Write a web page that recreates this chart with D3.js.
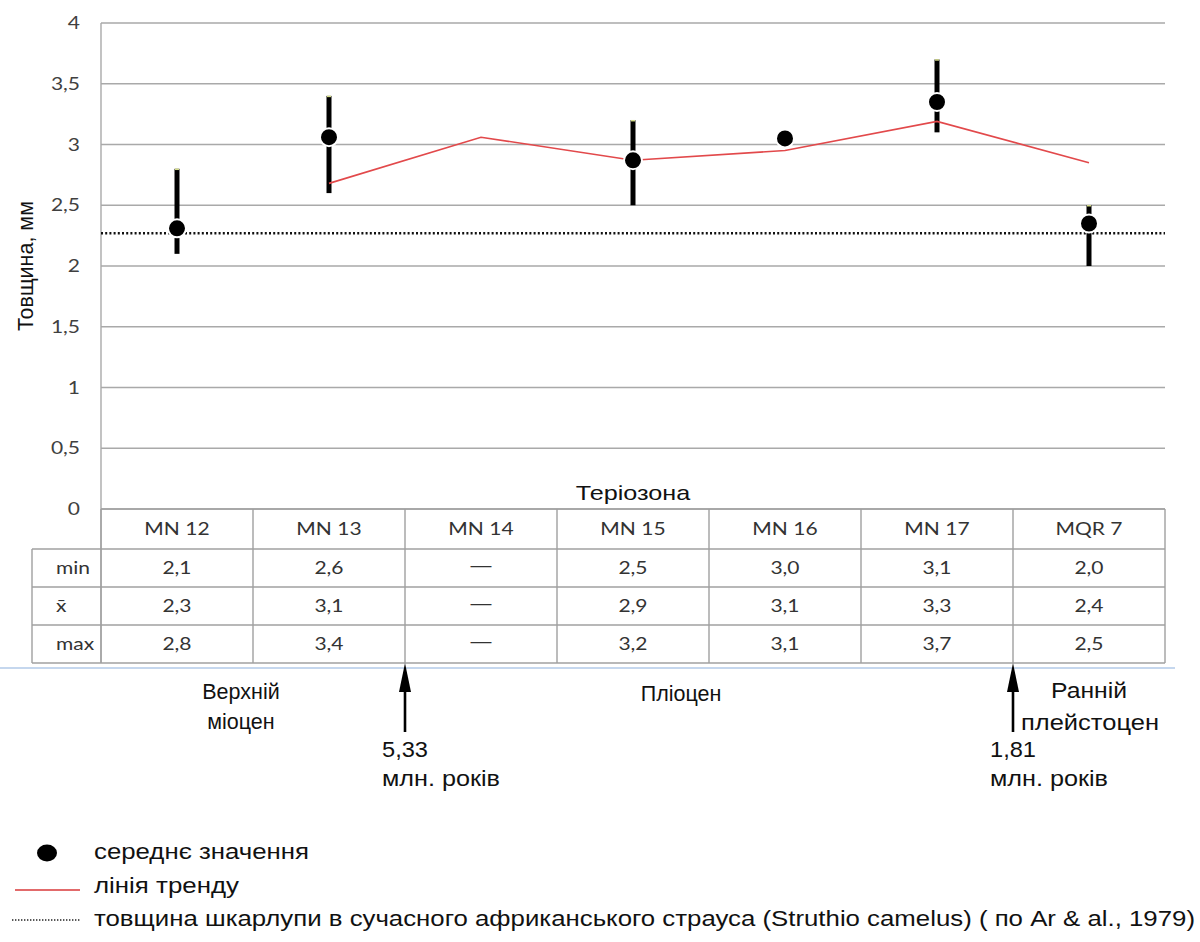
<!DOCTYPE html>
<html>
<head>
<meta charset="utf-8">
<script src="https://cdn.jsdelivr.net/npm/d3@7"></script>
<style>
  html, body { margin: 0; padding: 0; background: #fff; }
  svg { display: block; }
</style>
</head>
<body>
<svg id="chart" width="1200" height="942"></svg>
<script>
// Теріозони (MN/MQR) and shell-thickness statistics, mm
const zones = ["MN 12", "MN 13", "MN 14", "MN 15", "MN 16", "MN 17", "MQR 7"];
const minVals = [2.1, 2.6, null, 2.5, 3.0, 3.1, 2.0];
const maxVals = [2.8, 3.4, null, 3.2, 3.1, 3.7, 2.5];
const meanTable = [2.3, 3.1, null, 2.9, 3.1, 3.3, 2.4];   // x̄ row of the table
const meanPoints = [2.31, 3.06, null, 2.87, 3.05, 3.35, 2.35]; // plotted mean markers
const trendVals = [null, 2.68, 3.06, 2.87, 2.95, 3.19, 2.85];  // лінія тренду
const ostrichThickness = 2.27; // Struthio camelus, Ar & al., 1979
const yTicks = [0, 0.5, 1, 1.5, 2, 2.5, 3, 3.5, 4];
const rowLabels = ["min", "x̄", "max"];
const epochLabels = [
  { lines: ["Верхній", "міоцен"] },
  { lines: ["Пліоцен"] },
  { lines: ["Ранній", "плейстоцен"] }
];
const boundaries = [
  { zoneEdge: 2, lines: ["5,33", "млн. років"] },
  { zoneEdge: 6, lines: ["1,81", "млн. років"] }
];
const legendItems = ["середнє значення", "лінія тренду",
  "товщина шкарлупи в сучасного африканського страуса (Struthio camelus) ( по Ar & al., 1979)"];

const SX = 1.2; // horizontal text stretch used for the chart and table labels
const ARIAL = "'Liberation Sans', Arial, sans-serif";
const CALIBRI = "Lato, 'Open Sans', sans-serif";

const svg = d3.select("#chart");
const plotLeft = 101, plotRight = 1165;

const x = d3.scaleBand().domain(zones).range([plotLeft, plotRight]).paddingInner(0).paddingOuter(0);
const y = d3.scaleLinear().domain([0, 4]).range([509, 23]);
const cx = i => x(zones[i]) + x.bandwidth() / 2;

const locale = d3.formatLocale({ decimal: ",", thousands: " ", grouping: [3], currency: ["", ""] });
const fmtTick = locale.format("~g");
const fmt1 = locale.format(".1f");

function stretch(sel, width) {
  sel.each(function () {
    const n = this.getComputedTextLength();
    this.setAttribute("textLength", width || n * SX);
    this.setAttribute("lengthAdjust", "spacingAndGlyphs");
  });
  return sel;
}

// horizontal gridlines
svg.append("g").selectAll("line").data(yTicks).join("line")
  .attr("x1", plotLeft).attr("x2", plotRight)
  .attr("y1", d => y(d)).attr("y2", d => y(d))
  .attr("stroke", "#a9a9a9").attr("stroke-width", 1.4);

// y axis labels
const yAxis = svg.append("g").attr("transform", `translate(${plotLeft},0)`)
  .call(d3.axisLeft(y).tickValues(yTicks).tickFormat(fmtTick).tickSize(0).tickPadding(21));
yAxis.select(".domain").remove();
yAxis.selectAll("text").attr("font-family", CALIBRI).attr("font-size", 17.5).attr("fill", "#404040")
  .call(stretch);

// left vertical axis line running down through the table
svg.append("line").attr("x1", plotLeft).attr("x2", plotLeft).attr("y1", y(4)).attr("y2", 663)
  .attr("stroke", "#a9a9a9").attr("stroke-width", 1.4);

// y axis title
svg.append("text").attr("transform", `translate(33,${y(2)}) rotate(-90)`)
  .attr("text-anchor", "middle").attr("font-family", ARIAL).attr("font-size", 21.5).attr("fill", "#111")
  .text("Товщина, мм");

// "Теріозона" caption
stretch(svg.append("text").attr("x", 633).attr("y", 500).attr("text-anchor", "middle")
  .attr("font-family", ARIAL).attr("font-size", 21).attr("fill", "#111").text("Теріозона"));

// table
const headTop = y(0), rowH = 38, headBottom = headTop + 40, labelLeft = 32;
const rowsY = [headBottom, headBottom + rowH, headBottom + 2 * rowH, headBottom + 3 * rowH];
const tbl = svg.append("g");
const gridStroke = "#a0a0a0";
tbl.append("line").attr("x1", plotLeft).attr("x2", plotRight).attr("y1", headTop).attr("y2", headTop)
  .attr("stroke", gridStroke).attr("stroke-width", 1.4);
tbl.selectAll("line.h").data(rowsY).join("line").attr("class", "h")
  .attr("x1", labelLeft).attr("x2", plotRight).attr("y1", d => d).attr("y2", d => d)
  .attr("stroke", gridStroke).attr("stroke-width", 1.4);
tbl.selectAll("line.v").data(zones.map(z => x(z) + x.bandwidth()).concat([plotLeft])).join("line").attr("class", "v")
  .attr("x1", d => d).attr("x2", d => d).attr("y1", headTop).attr("y2", rowsY[3])
  .attr("stroke", gridStroke).attr("stroke-width", 1.4);
tbl.append("line").attr("x1", labelLeft).attr("x2", labelLeft).attr("y1", rowsY[0]).attr("y2", rowsY[3])
  .attr("stroke", gridStroke).attr("stroke-width", 1.4);

// header
tbl.selectAll("text.head").data(zones).join("text").attr("class", "head")
  .attr("x", (d, i) => cx(i)).attr("y", headTop + 26).attr("text-anchor", "middle")
  .attr("font-family", CALIBRI).attr("font-size", 17.5).attr("fill", "#333").text(d => d)
  .call(stretch);
// row labels
tbl.selectAll("text.rl").data(rowLabels).join("text").attr("class", "rl")
  .attr("x", 56).attr("y", (d, i) => rowsY[i] + 25)
  .attr("font-family", CALIBRI).attr("font-size", 17.5).attr("fill", "#333").text(d => d)
  .call(stretch);
// values (missing values shown as a long dash)
const rowsData = [minVals, meanTable, maxVals];
rowsData.forEach((vals, r) => {
  tbl.selectAll(null).data(vals).join("text")
    .attr("x", (d, i) => cx(i)).attr("y", (d) => rowsY[r] + (d == null ? 23 : 25)).attr("text-anchor", "middle")
    .attr("font-family", CALIBRI).attr("font-size", 17.5).attr("fill", "#333")
    .text(d => d == null ? "—" : fmt1(d))
    .each(function (d) { stretch(d3.select(this), d == null ? 25 : null); });
});

// thin blue rule under the table
svg.append("line").attr("x1", 0).attr("x2", 1175).attr("y1", 668).attr("y2", 668)
  .attr("stroke", "#c5d7ee").attr("stroke-width", 2);

// ostrich reference line (dotted)
svg.append("line").attr("x1", plotLeft).attr("x2", plotRight)
  .attr("y1", y(ostrichThickness)).attr("y2", y(ostrichThickness))
  .attr("stroke", "#111").attr("stroke-width", 2.6).attr("stroke-dasharray", "2,2.2");

// min–max bars
const idx = d3.range(zones.length).filter(i => minVals[i] != null);
svg.append("g").selectAll("line").data(idx).join("line")
  .attr("x1", cx).attr("x2", cx)
  .attr("y1", i => y(minVals[i])).attr("y2", i => y(maxVals[i]))
  .attr("stroke", "#000").attr("stroke-width", 5);
svg.append("g").selectAll("line").data(idx).join("line")
  .attr("x1", i => cx(i) - 2).attr("x2", i => cx(i) + 2)
  .attr("y1", i => y(maxVals[i]) + 0.5).attr("y2", i => y(maxVals[i]) + 0.5)
  .attr("stroke", "#d4dc8a").attr("stroke-width", 1.5);

// trend line
const trend = d3.line().defined(d => d != null).x((d, i) => cx(i)).y(d => y(d));
svg.append("path").datum(trendVals).attr("d", trend)
  .attr("fill", "none").attr("stroke", "#e2494b").attr("stroke-width", 1.6);

// mean markers
svg.append("g").selectAll("circle").data(d3.range(zones.length).filter(i => meanPoints[i] != null)).join("circle")
  .attr("cx", cx).attr("cy", i => y(meanPoints[i])).attr("r", 9)
  .attr("fill", "#000").attr("stroke", "#fff").attr("stroke-width", 2);

// epoch labels
function bottomText(sx, sy, s, anchor, w) {
  const t = svg.append("text").attr("x", sx).attr("y", sy)
    .attr("text-anchor", anchor).attr("font-family", ARIAL).attr("font-size", 21.5).attr("fill", "#111").text(s);
  if (w) stretch(t, w);
  return t;
}
bottomText(241, 699, epochLabels[0].lines[0], "middle");
bottomText(241, 729, epochLabels[0].lines[1], "middle");
bottomText(681, 701, epochLabels[1].lines[0], "middle");
bottomText(1089, 698, epochLabels[2].lines[0], "middle", 76);
bottomText(1090, 730, epochLabels[2].lines[1], "middle", 138);

// boundary arrows
boundaries.forEach(b => {
  const bx = x(zones[b.zoneEdge]);
  svg.append("line").attr("x1", bx).attr("x2", bx).attr("y1", 688).attr("y2", 732)
    .attr("stroke", "#000").attr("stroke-width", 2.6);
  svg.append("path").attr("d", `M${bx},663 L${bx - 6},692 L${bx + 6},692 Z`).attr("fill", "#000");
  bottomText(bx - 23, 757, b.lines[0], "start", 46);
  bottomText(bx - 23, 786, b.lines[1], "start", 118);
});

// legend
const lg = svg.append("g");
lg.append("ellipse").attr("cx", 47).attr("cy", 853).attr("rx", 10).attr("ry", 8.5).attr("fill", "#000");
lg.append("line").attr("x1", 15).attr("x2", 80).attr("y1", 890).attr("y2", 890)
  .attr("stroke", "#d9383a").attr("stroke-width", 1.6);
lg.append("line").attr("x1", 12).attr("x2", 80).attr("y1", 920).attr("y2", 920)
  .attr("stroke", "#222").attr("stroke-width", 1.6).attr("stroke-dasharray", "1.4,1.6");
const legendY = [859, 893, 926];
const legendW = [215, 145, 1101];
legendItems.forEach((s, i) => {
  stretch(lg.append("text").attr("x", 94).attr("y", legendY[i])
    .attr("font-family", ARIAL).attr("font-size", 21.5).attr("fill", "#111").text(s), legendW[i]);
});
</script>
</body>
</html>
